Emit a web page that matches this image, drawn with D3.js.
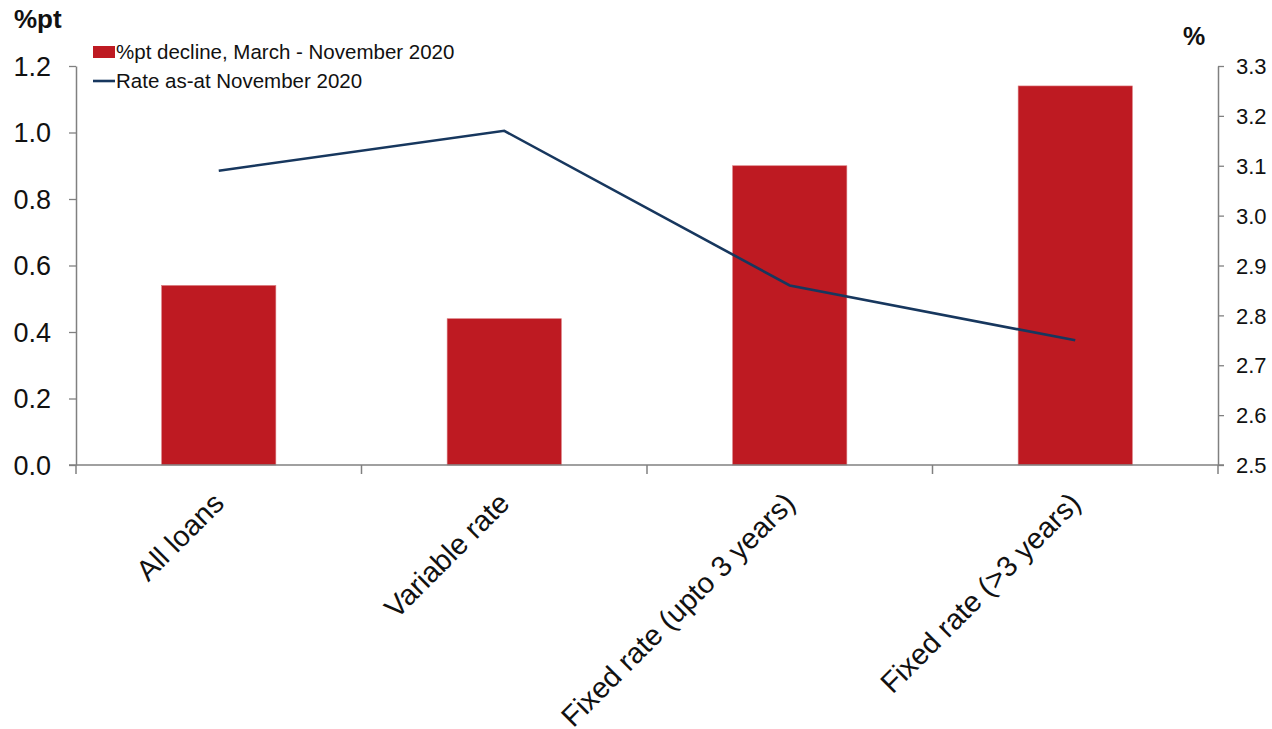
<!DOCTYPE html>
<html><head><meta charset="utf-8">
<script src="https://cdn.jsdelivr.net/npm/d3@7/dist/d3.min.js"></script>
<style>body{margin:0;background:#fff;}svg{display:block;font-family:"Liberation Sans",Arial,sans-serif;}</style>
</head><body>
<svg id="c" width="1272" height="729"></svg>
<script>
const categories = ["All loans", "Variable rate", "Fixed rate (upto 3 years)", "Fixed rate (>3 years)"];
const declineValues = [0.54, 0.44, 0.90, 1.14];
const rateValues = [3.09, 3.17, 2.86, 2.75];
const leftTicks = [0.0, 0.2, 0.4, 0.6, 0.8, 1.0, 1.2];
const rightTicks = [2.5, 2.6, 2.7, 2.8, 2.9, 3.0, 3.1, 3.2, 3.3];
const seriesNames = ["%pt decline, March - November 2020", "Rate as-at November 2020"];

const svg = d3.select("#c");
const L = 76, R = 1218, T = 66, B = 465;
const axisColor = "#808080";
const barColor = "#BE1A22";
const lineColor = "#17375E";

const x = d3.scaleBand().domain(categories).range([L, R]).paddingInner(0.6).paddingOuter(0.3);
const xb = d3.scaleBand().domain(categories).range([L, R]);
const yL = d3.scaleLinear().domain([0, 1.2]).range([B, T]);
const yR = d3.scaleLinear().domain([2.5, 3.3]).range([B, T]);

// bars
svg.selectAll("rect.bar").data(declineValues).enter().append("rect")
  .attr("class", "bar")
  .attr("x", (d, i) => x(categories[i]))
  .attr("width", x.bandwidth())
  .attr("y", d => yL(d))
  .attr("height", d => yL(0) - yL(d))
  .attr("fill", barColor)
  .attr("stroke", "#d97a7e").attr("stroke-width", 0.6);

// left axis
const gL = svg.append("g").attr("transform", `translate(${L},0)`)
  .call(d3.axisLeft(yL).tickValues(leftTicks).tickFormat(d3.format(".1f")).tickSize(7).tickSizeOuter(0));
gL.select(".domain").attr("stroke", axisColor).attr("stroke-width", 1.5);
gL.selectAll(".tick line").attr("stroke", axisColor).attr("stroke-width", 1.3);
gL.selectAll(".tick text").attr("font-size", 27).attr("fill", "#111").attr("x", -25).attr("dy", "0.35em")
  .style("font-family", '"Liberation Sans",Arial,sans-serif');

// right axis
const gR = svg.append("g").attr("transform", `translate(${R},0)`)
  .call(d3.axisRight(yR).tickValues(rightTicks).tickFormat(d3.format(".1f")).tickSize(6).tickSizeOuter(0));
gR.select(".domain").attr("stroke", axisColor).attr("stroke-width", 1.5);
gR.selectAll(".tick line").attr("stroke", axisColor).attr("stroke-width", 1.3);
gR.selectAll(".tick text").attr("font-size", 22).attr("fill", "#111").attr("x", 18).attr("dy", "0.35em")
  .style("font-family", '"Liberation Sans",Arial,sans-serif');

// x axis baseline and boundary ticks
svg.append("line").attr("x1", L - 7).attr("x2", R + 6).attr("y1", B).attr("y2", B)
  .attr("stroke", axisColor).attr("stroke-width", 1.5);
const bounds = categories.map(c => xb(c)).concat([R]);
svg.selectAll("line.xt").data(bounds).enter().append("line")
  .attr("x1", d => d).attr("x2", d => d).attr("y1", B).attr("y2", B + 9)
  .attr("stroke", axisColor).attr("stroke-width", 1.5);

// category labels
svg.selectAll("text.cat").data(categories).enter().append("text")
  .attr("class", "cat")
  .attr("transform", d => `translate(${x(d) + x.bandwidth() / 2 + 7},${B + 40}) rotate(-45)`)
  .attr("text-anchor", "end")
  .attr("font-size", 29)
  .attr("fill", "#111")
  .text(d => d);

// line
const line = d3.line().x((d, i) => x(categories[i]) + x.bandwidth() / 2).y(d => yR(d));
svg.append("path").datum(rateValues).attr("d", line)
  .attr("fill", "none").attr("stroke", lineColor).attr("stroke-width", 2.6);

// axis titles
svg.append("text").attr("x", 14).attr("y", 28).attr("font-size", 26).attr("font-weight", "bold").attr("fill", "#111").text("%pt");
svg.append("text").attr("x", 1183).attr("y", 45).attr("font-size", 25).attr("font-weight", "bold").attr("fill", "#111").text("%");

// legend
svg.append("rect").attr("x", 93).attr("y", 46).attr("width", 22).attr("height", 12).attr("fill", barColor);
svg.append("text").attr("x", 116).attr("y", 59).attr("font-size", 20.5).attr("fill", "#111").text(seriesNames[0]);
svg.append("line").attr("x1", 93).attr("x2", 115).attr("y1", 81).attr("y2", 81).attr("stroke", lineColor).attr("stroke-width", 2.6);
svg.append("text").attr("x", 116).attr("y", 88).attr("font-size", 20.5).attr("fill", "#111").text(seriesNames[1]);
</script>
</body></html>
